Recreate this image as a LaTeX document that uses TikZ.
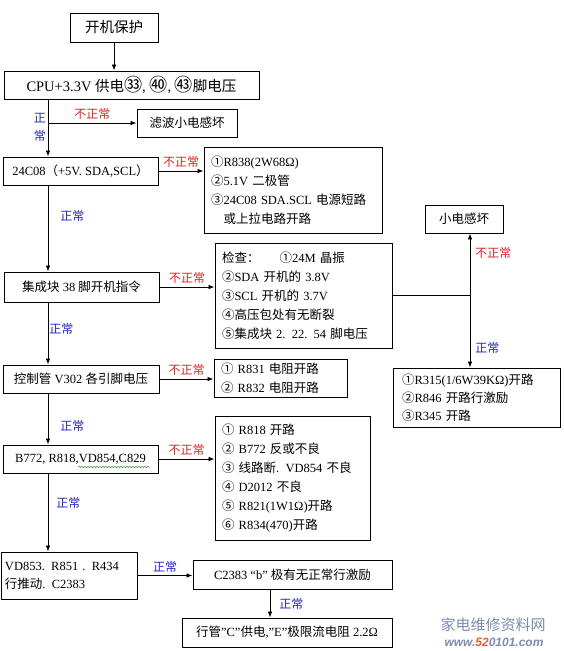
\documentclass[tikz,border=0pt]{standalone}
\usepackage{fontspec}
\setmainfont{Liberation Serif}
\newfontfamily\cjk{Noto Sans CJK SC}
\newfontfamily\wmsans{Liberation Sans}
\usetikzlibrary{arrows.meta,decorations.pathmorphing}
\newcommand\zh[1]{{\cjk #1}}
\definecolor{okblue}{RGB}{35,35,200}
\definecolor{badred}{RGB}{225,35,35}
\definecolor{wmblue}{RGB}{125,140,180}
\definecolor{wmred}{RGB}{232,95,45}
\definecolor{squig}{RGB}{60,150,60}
\begin{document}
\begin{tikzpicture}[x=1pt,y=-1pt,
  bx/.style={draw, line width=0.9pt, inner sep=0pt, align=center, font=\fontsize{12.5}{19}\selectfont},
  lbox/.style={draw, line width=0.9pt, inner xsep=7pt, inner ysep=0pt, align=left, font=\fontsize{12.5}{19}\selectfont},
  ar/.style={line width=0.8pt, -{Latex[length=6pt,width=4.5pt]}},
  ln/.style={line width=0.8pt},
  ok/.style={text=okblue, font=\cjk\fontsize{12}{18}\selectfont, inner sep=0pt},
  bad/.style={text=badred, font=\cjk\fontsize{12}{18}\selectfont, inner sep=0pt}]
\fill[white] (0,0) rectangle (563,651);
\useasboundingbox (0,0) rectangle (563,651);

\coordinate (sp) at (48,0);
\coordinate (rs) at (470,0);
\coordinate (dx) at (270,0);

% boxes
\node[bx, minimum width=88pt, minimum height=29pt, font=\fontsize{14.5}{16}\selectfont] (b1) at (114,27.5) {\zh{开机保护}};
\node[bx, minimum width=255pt, minimum height=28pt, font=\fontsize{14.5}{16}\selectfont] (b2) at (131.5,85) {CPU+3.3V \zh{供电}\raisebox{-0.1ex}{\scalebox{1.25}{\zh{㉝}}}, \raisebox{-0.1ex}{\scalebox{1.25}{\zh{㊵}}}, \raisebox{-0.1ex}{\scalebox{1.25}{\zh{㊸}}}\zh{脚电压}};
\node[bx, minimum width=100pt, minimum height=28pt] (filt) at (187,123) {\zh{滤波小电感坏}};
\node[bx, minimum width=155pt, minimum height=28pt] (b3) at (80.5,171) {24C08\zh{（}+5V. SDA,SCL\zh{）}};
\node[lbox, text width=164pt, minimum height=86pt] (r838) at (293,190) {\zh{①}R838(2W68Ω)\\\zh{②}5.1V \zh{二极管}\\\zh{③}24C08 SDA.SCL \zh{电源短路}\\\hspace*{1em}\zh{或上拉电路开路}};
\node[bx, minimum width=155pt, minimum height=30pt] (b4) at (81.5,287) {\zh{集成块} 38 \zh{脚开机指令}};
\node[lbox, text width=163pt, minimum height=105pt] (chk) at (303.5,295.5) {\zh{检查：}\hspace{1.6em}\zh{①}24M \zh{晶振}\\\zh{②}SDA \zh{开机的} 3.8V\\\zh{③}SCL \zh{开机的} 3.7V\\\zh{④高压包处有无断裂}\\\zh{⑤集成块} 2. 22. 54 \zh{脚电压}};
\node[bx, minimum width=78pt, minimum height=28pt] (small) at (464,219) {\zh{小电感坏}};
\node[bx, minimum width=156pt, minimum height=28pt] (b5) at (81,379) {\zh{控制管} V302 \zh{各引脚电压}};
\node[lbox, text width=119pt, minimum height=38pt] (r831) at (280.5,378) {\zh{①} R831 \zh{电阻开路}\\\zh{②} R832 \zh{电阻开路}};
\node[lbox, inner xsep=9pt, text width=149pt, minimum height=59pt, font=\fontsize{12.5}{18}\selectfont] (r315) at (476.5,397.5) {\zh{①}R315(1/6W39KΩ)\zh{开路}\\\zh{②}R846 \zh{开路行激励}\\\zh{③}R345 \zh{开路}};
\node[bx, minimum width=155pt, minimum height=28pt] (b6) at (80.5,459) {B772, R818,VD854,C829};
\node[lbox, text width=141pt, minimum height=124pt] (r818) at (292.5,478) {\zh{①} R818 \zh{开路}\\\zh{②} B772 \zh{反或不良}\\\zh{③} \zh{线路断}. VD854 \zh{不良}\\\zh{④} D2012 \zh{不良}\\\zh{⑤} R821(1W1Ω)\zh{开路}\\\zh{⑥} R834(470)\zh{开路}};
\node[lbox, inner xsep=4pt, text width=128pt, minimum height=47pt, font=\fontsize{12.5}{18}\selectfont] (b7) at (69,575.5) {VD853. R851 . R434\\\zh{行推动}. C2383};
\node[bx, minimum width=199pt, minimum height=29pt] (c2383) at (292.5,574.5) {C2383 “b” \zh{极有无正常行激励}};
\node[bx, minimum width=210pt, minimum height=29pt] (last) at (287,632.5) {\zh{行管}”C”\zh{供电},”E”\zh{极限流电阻} 2.2Ω};

% spell-check squiggle
\draw[squig, line width=0.5pt, decorate, decoration={snake, amplitude=0.7pt, segment length=3pt}] (78,467) -- (150,467);

% connectors
\draw[ar] (b1.south) -- (b1.south |- b2.north);
\draw[ar] (b2.south -| sp) -- (b3.north -| sp);
\node[ok, align=center, font=\cjk\fontsize{12}{18}\selectfont] at (40,127.5) {正\\常};
\draw[ar] (sp |- filt.west) -- node[bad, above=3pt]{不正常} (filt.west);
\draw[ar] (b3.east) -- node[bad, above=3pt]{不正常} (b3.east -| r838.west);
\draw[ar] (b3.south -| sp) -- node[ok, pos=0.35, right=12pt]{正常} (b4.north -| sp);
\draw[ar] (b4.east) -- node[bad, above=3pt]{不正常} (b4.east -| chk.west);
\draw[ln] (chk.east) -- (chk.east -| rs);
\draw[ar] (chk.east -| rs) -- node[bad, pos=0.68, right=5pt]{不正常} (small.south -| rs);
\draw[ar] (chk.east -| rs) -- node[ok, pos=0.73, right=5pt]{正常} (r315.north -| rs);
\draw[ar] (b4.south -| sp) -- node[ok, pos=0.43, right=1pt]{正常} (b5.north -| sp);
\draw[ar] (b5.east) -- node[bad, above=3pt]{不正常} (b5.east -| r831.west);
\draw[ar] (b5.south -| sp) -- node[ok, pos=0.63, right=12pt]{正常} (b6.north -| sp);
\draw[ar] (b6.east) -- node[bad, above=3pt]{不正常} (b6.east -| r818.west);
\draw[ar] (b6.south -| sp) -- node[ok, pos=0.38, right=8pt]{正常} (b7.north -| sp);
\draw[ar] (b7.east) -- node[ok, above=3pt]{正常} (b7.east -| c2383.west);
\draw[ar] (c2383.south -| dx) -- node[ok, right=9pt]{正常} (last.north -| dx);

% watermark
\node[text=wmblue, font=\cjk\fontsize{15}{15}\selectfont, inner sep=0pt] (wm1) at (493,625) {家电维修资料网};
\node[font=\wmsans\bfseries\itshape\fontsize{12}{12}\selectfont, inner sep=0pt, anchor=base] (wm2) at (494,646) {\textcolor{wmblue}{www.}\textcolor{wmred}{52}\textcolor{wmblue}{0101.com}};
\end{tikzpicture}
\end{document}
